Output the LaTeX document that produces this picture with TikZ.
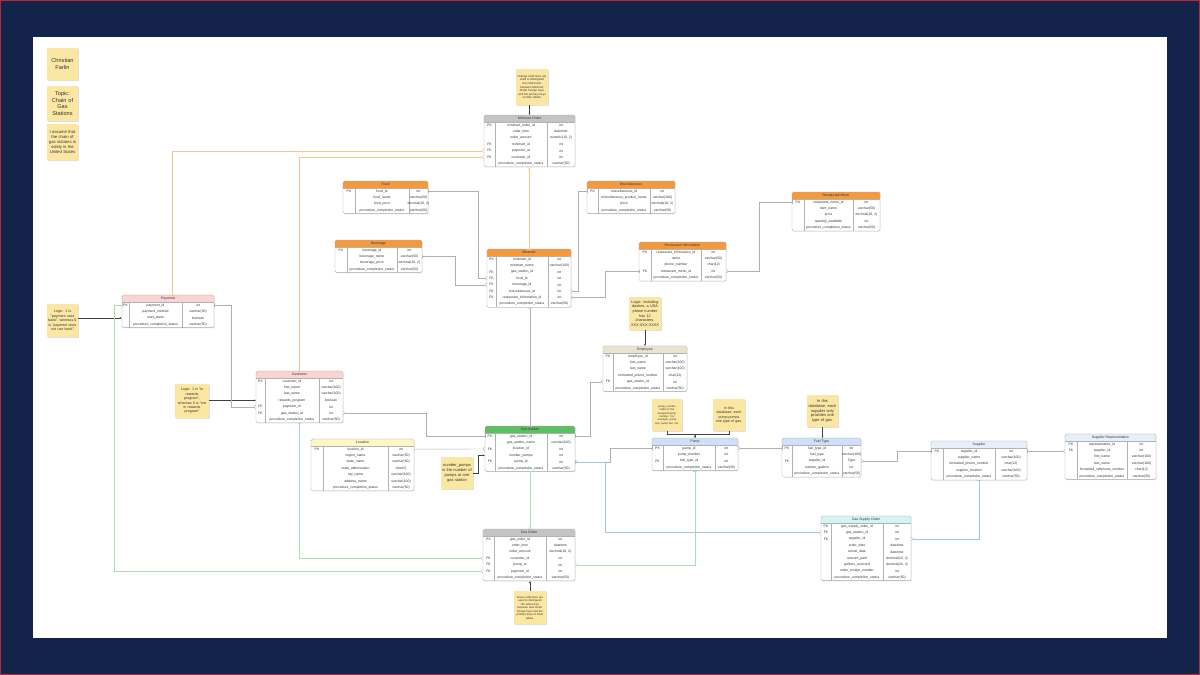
\documentclass[tikz,border=0pt]{standalone}
\usepackage{fontspec}
\setmainfont{Liberation Sans}
\usepackage{xcolor}
\usepackage{tikz}
\usetikzlibrary{positioning, calc, arrows.meta, shadows}

\definecolor{framenavy}{HTML}{13244A}
\definecolor{framered}{HTML}{B22A3A}
\definecolor{notefill}{HTML}{FBE7A2}
\definecolor{hdorange}{HTML}{F59A3C}
\definecolor{hdpink}{HTML}{F8D4D4}
\definecolor{hdgreen}{HTML}{5CC061}
\definecolor{hdgray}{HTML}{C4C4C4}
\definecolor{hdblue}{HTML}{CFE1F7}
\definecolor{hdpale}{HTML}{E6EFFA}
\definecolor{hdyellow}{HTML}{FCF7C3}
\definecolor{hdbeige}{HTML}{E9E3D0}
\definecolor{hdcyan}{HTML}{D4F4F1}
\definecolor{ergray}{HTML}{B0B0B0}
\definecolor{erorange}{HTML}{F5C593}
\definecolor{ergreen}{HTML}{A8DEB2}
\definecolor{erblue}{HTML}{A6C5DD}
\definecolor{inktext}{HTML}{333333}

\tikzset{
  tablebox/.style={rectangle, fill=white, inner sep=0pt, outer sep=0pt, rounded corners=1.5pt, drop shadow={opacity=0.15, shadow xshift=0.6pt, shadow yshift=-0.8pt}},
  tablegrid/.style={draw=black!30, line width=0.35pt},
  tabletitle/.style={font=\fontsize{3.5}{4}\selectfont, text=inktext, inner sep=0pt},
  cell/.style={font=\fontsize{3.4}{4}\selectfont, text=inktext, inner sep=0pt},
  sticky/.style={fill=notefill, minimum width=31, minimum height=33, text width=29, align=center, inner sep=1pt, text=inktext, drop shadow={opacity=0.25, shadow xshift=0.6pt, shadow yshift=-0.9pt}},
  erline/.style={draw=ergray, line width=0.4pt, arrows={Bar[width=3.5pt]-Straight Barb[reversed, length=2pt, width=3.5pt]}},
  orangeline/.style={erline, draw=erorange},
  greenline/.style={erline, draw=ergreen},
  blueline/.style={erline, draw=erblue},
  notearrow/.style={draw=black!75, line width=0.4pt, -{Latex[length=2.2pt, width=2pt]}}
}

\newcommand{\rowh}{6.4}
\newcommand{\headh}{7}
% name, left, top, width, key col, type col, header colour, title, rows
\newcommand{\erdtable}[9]{%
  \foreach [count=\i] \colx in {#9} {\xdef\nrows{\i}}
  \pgfmathsetmacro{\tabh}{\headh+\nrows*\rowh}
  \node[tablebox, minimum width=#4, minimum height=\tabh, anchor=north west] (#1) at (#2,#3) {};
  \fill[#7, rounded corners=1.5pt] (#2,#3) rectangle ({#2+#4},{#3+\headh});
  \fill[#7] (#2,{#3+\headh/2}) rectangle ({#2+#4},{#3+\headh});
  \draw[tablegrid] (#2,{#3+\headh}) -- ({#2+#4},{#3+\headh});
  \draw[tablegrid] ({#2+#5},{#3+\headh}) -- ({#2+#5},{#3+\tabh});
  \draw[tablegrid] ({#2+#6},{#3+\headh}) -- ({#2+#6},{#3+\tabh});
  \draw[tablegrid, draw=black!35, rounded corners=1.5pt] (#1.north west) rectangle (#1.south east);
  \node[tabletitle] (#1-title) at ({#2+#4/2},{#3+\headh/2}) {#8};
  \foreach [count=\i] \colk/\coln/\colt in {#9} {
    \pgfmathsetmacro{\ry}{#3+\headh+(\i-0.5)*\rowh}
    \node[cell] (#1-k\i) at ({#2+#5/2},\ry) {\colk};
    \node[cell] (#1-n\i) at ({#2+(#5+#6)/2},\ry) {\coln};
    \node[cell] (#1-t\i) at ({#2+(#6+#4)/2},\ry) {\colt};
    \coordinate (#1-\i-w) at (#2,\ry);
    \coordinate (#1-\i-e) at ({#2+#4},\ry);
  }
}

\begin{document}
\begin{tikzpicture}[x=1pt, y=-1pt]
  \useasboundingbox (0,0) rectangle (1200,675);
  \fill[framenavy] (0,0) rectangle (1200,675);
  \draw[framered, line width=1.2pt] (0.6,0.6) rectangle (1199.4,674.4);
  \fill[white] (33,37) rectangle (1167,638);

  % tables
  \erdtable{mo}{484}{115}{91}{11}{63}{hdgray}{Minimart Order}{PK/minimart\_order\_id/int, /order\_time/datetime, /order\_amount/{numeric(10, 2)}, FK/minimart\_id/int, FK/payment\_id/int, FK/customer\_id/int, /procedure\_completion\_status/varchar(50)}
  \erdtable{food}{343}{181}{85}{12}{66}{hdorange}{Food}{PK/food\_id/int, /food\_name/varchar(50), /food\_price/{decimal(10, 2)}, /procedure\_completion\_status/varchar(50)}
  \erdtable{beverage}{335}{240}{87}{12}{62}{hdorange}{Beverage}{PK/beverage\_id/int, /beverage\_name/varchar(50), /beverage\_price/{decimal(10, 2)}, /procedure\_completion\_status/varchar(50)}
  \erdtable{misc}{587}{181}{88}{11}{63}{hdorange}{Miscellaneous}{PK/miscellaneous\_id/int, /miscellaneous\_product\_name/varchar(100), /price/{decimal(10, 2)}, /procedure\_completion\_status/varchar(50)}
  \erdtable{minimart}{487}{249}{84}{9}{61}{hdorange}{Minimart}{PK/minimart\_id/int, /minimart\_name/varchar(100), FK/gas\_station\_id/int, FK/food\_id/int, FK/beverage\_id/int, FK/miscellaneous\_id/int, FK/restaurant\_information\_id/int, /procedure\_completion\_status/varchar(50)}
  \erdtable{resinfo}{639}{242}{87}{12}{62}{hdorange}{Restaurant Information}{PK/restaurant\_information\_id/int, /name/varchar(50), /phone\_number/char(12), FK/restaurant\_menu\_id/int, /procedure\_completion\_status/varchar(50)}
  \erdtable{resmenu}{792}{192}{88}{12}{61}{hdorange}{Restaurant Menu}{PK/restaurant\_menu\_id/int, /item\_name/varchar(50), /price/{decimal(10, 2)}, /quantity\_available/int, /procedure\_completion\_status/varchar(50)}
  \erdtable{payment}{122}{295}{92}{7}{60}{hdpink}{Payment}{PK/payment\_id/int, /payment\_method/varchar(50), /uses\_bank/boolean, /procedure\_completion\_status/varchar(50)}
  \erdtable{customer}{256}{371}{87}{9}{63}{hdpink}{Customer}{PK/customer\_id/int, /first\_name/varchar(100), /last\_name/varchar(100), /rewards\_program/boolean, FK/payment\_id/int, FK/gas\_station\_id/int, /procedure\_completion\_status/varchar(50)}
  \erdtable{employee}{603}{346}{84}{10}{60}{hdbeige}{Employee}{PK/employee\_id/int, /first\_name/varchar(100), /last\_name/varchar(100), /formatted\_phone\_number/char(12), FK/gas\_station\_id/int, /procedure\_completion\_status/varchar(50)}
  \erdtable{location}{311}{439}{103}{12}{77}{hdyellow}{Location}{PK/location\_id/int, /region\_name/varchar(50), /state\_name/varchar(50), /state\_abbreviation/char(2), /city\_name/varchar(100), /address\_name/varchar(100), /procedure\_completion\_status/varchar(50)}
  \erdtable{gasstation}{485}{426}{90}{10}{62}{hdgreen}{Gas Station}{PK/gas\_station\_id/int, /gas\_station\_name/varchar(100), FK/location\_id/int, /number\_pumps/int, FK/pump\_id/int, /procedure\_completion\_status/varchar(50)}
  \erdtable{pump}{652}{438}{86}{11}{63}{hdblue}{Pump}{PK/pump\_id/int, /pump\_number/int, FK/fuel\_type\_id/int, /procedure\_completion\_status/varchar(50)}
  \erdtable{fueltype}{782}{438}{79}{10}{60}{hdblue}{Fuel Type}{PK/fuel\_type\_id/int, /fuel\_type/varchar(100), FK/supplier\_id/Type, /number\_gallons/int, /procedure\_completion\_status/varchar(50)}
  \erdtable{supplier}{931}{441}{96}{12}{64}{hdpale}{Supplier}{PK/supplier\_id/int, /supplier\_name/varchar(100), /formatted\_phone\_number/char(12), /supplier\_location/varchar(100), /procedure\_completion\_status/varchar(50)}
  \erdtable{suprep}{1065}{434}{91}{12}{62}{hdpale}{Supplier Representative}{PK/representative\_id/int, FK/supplier\_id/int, /first\_name/varchar(100), /last\_name/varchar(100), /formatted\_cellphone\_number/char(12), /procedure\_completion\_status/varchar(50)}
  \erdtable{gasorder}{483}{529}{92}{11}{63}{hdgray}{Gas Order}{PK/gas\_order\_id/int, /order\_time/datetime, /order\_amount/{decimal(10, 2)}, FK/customer\_id/int, FK/pump\_id/int, FK/payment\_id/int, /procedure\_completion\_status/varchar(50)}
  \erdtable{gso}{821}{516}{90}{10}{62}{hdcyan}{Gas Supply Order}{PK/gas\_supply\_order\_id/int, FK/gas\_station\_id/int, FK/supplier\_id/int, /order\_date/datetime, /arrival\_date/datetime, /amount\_paid/{decimal(10, 2)}, /gallons\_received/{decimal(10, 2)}, /order\_receipt\_number/int, /procedure\_completion\_status/varchar(50)}

  % sticky notes
  \node[sticky, minimum height=32, font=\fontsize{5.6}{6.6}\selectfont] (authornote) at (62.5,64) {Christian\\Farlin};
  \node[sticky, minimum height=35, font=\fontsize{5.6}{6.6}\selectfont] (topicnote) at (62.5,103.5) {Topic:\\Chain of\\Gas\\Stations};
  \node[sticky, minimum height=36, font=\fontsize{4.2}{5}\selectfont] (assumenote) at (62.5,142) {I assume that\\the chain of\\gas stations is\\solely in the\\United States};
  \node[sticky, minimum width=32, text width=30, minimum height=36, font=\fontsize{2.9}{3.6}\selectfont] (monote) at (532,87) {Orange solid lines are\\used to distinguish\\the references\\between Minimart\\Order foreign keys\\and the primary keys\\of other tables.};
  \node[sticky, minimum width=32, text width=30, font=\fontsize{3.8}{4.6}\selectfont] (empnote) at (645,313.5) {Logic: including\\dashes, a USA\\phone number\\has 12\\characters.\\XXX-XXX-XXXX};
  \node[sticky, font=\fontsize{3.6}{4.4}\selectfont] (paynote) at (62.5,320.5) {Logic: 1 is\\"payment uses\\bank", whereas 0\\is "payment does\\not use bank"};
  \node[sticky, minimum width=34, text width=32, minimum height=34, font=\fontsize{3.6}{4.4}\selectfont] (custnote) at (192,401) {Logic: 1 is "in\\rewards\\program",\\whereas 0 is "not\\in rewards\\program"};
  \node[sticky, minimum width=32, text width=30, minimum height=32, font=\fontsize{4}{4.8}\selectfont] (gsnote) at (457,473) {number\_pumps\\is the number of\\pumps at one\\gas station};
  \node[sticky, minimum width=30, text width=28, minimum height=32, font=\fontsize{2.7}{3.4}\selectfont] (pumpnote) at (667,415) {pump\_number\\refers to the\\assigned pump\\number. For\\example, pump\\one, pump two, etc.};
  \node[sticky, minimum width=32, text width=30, minimum height=32, font=\fontsize{3.6}{4.4}\selectfont] (gastypenote) at (729,415) {In this\\database, each\\pump pumps\\one type of gas.};
  \node[sticky, minimum width=31, text width=29, minimum height=32, font=\fontsize{4}{4.8}\selectfont] (suppliernote) at (822.5,411) {In this\\database, each\\supplier only\\provides one\\type of gas.};
  \node[sticky, minimum width=32, text width=30, minimum height=33, font=\fontsize{2.8}{3.5}\selectfont] (gonote) at (530,607.5) {Green solid lines are\\used to distinguish\\the references\\between Gas Order\\foreign keys and the\\primary keys of other\\tables.};

  % note arrows
  \draw[notearrow] (mo.north |- monote.south) -- (mo.north);
  \draw[notearrow] (empnote.south) -- (empnote.south |- employee.north);
  \draw[notearrow] (paynote.east |- payment-3-w) -- (payment-3-w);
  \draw[notearrow] (custnote.east |- customer-4-w) -- (customer-4-w);
  \draw[notearrow] (gsnote.east) -- ++(5,0) |- (gasstation-4-w);
  \draw[notearrow] (pumpnote.south) -- ++(0,3) -| (pump.north);
  \draw[notearrow] (gastypenote.south) -- ++(0,3) -| (pump.north);
  \draw[notearrow] (suppliernote.south) -- (suppliernote.south |- fueltype.north);
  \draw[notearrow] (gonote.north) -- (gonote.north |- gasorder.south);

  % relations
  \draw[erline] (food-1-e) -| ($(minimart-4-w)+(-9,0)$) -- (minimart-4-w);
  \draw[erline] (beverage.east) -| ($(minimart-5-w)+(-32,0)$) -- (minimart-5-w);
  \draw[erline] (misc-1-w) -- ++(-9,0) |- (minimart-6-e);
  \draw[erline] (resinfo-4-w) -- ++(-34,0) |- (minimart-7-e);
  \draw[erline] (resmenu-1-w) -- ++(-33,0) |- (resinfo-4-e);
  \draw[erline] (gasstation.north) -- (gasstation.north |- minimart.south);
  \draw[erline] (payment-1-e) -- ++(17,0) |- (customer-5-w);
  \draw[erline] (gasstation-1-w) -- ++(-59,0) |- (customer-6-e);
  \draw[erline] (location-1-e) -- (gasstation-3-w);
  \draw[erline] (gasstation-1-e) -- ++(15,0) |- (employee-5-w);
  \draw[erline] (pump-1-w) -- ++(-42,0) |- (gasstation-5-e);
  \draw[blueline] (gasstation-5-e) -- ++(30,0) |- (gso-2-w);
  \draw[erline] (fueltype-1-w) -- (pump-1-e);
  \draw[erline] (supplier-1-w) -- ++(-34,0) |- (fueltype-3-e);
  \draw[erline] (supplier-1-e) -- (supplier-1-e -| suprep.west);
  \draw[blueline] (supplier.south) |- (gso-3-e);
  \draw[orangeline] ([xshift=50pt]payment.north west) |- (mo-5-w);
  \draw[orangeline] (customer.north) |- (mo-6-w);
  \draw[orangeline] (minimart.north) -- (minimart.north |- mo.south);
  \draw[greenline] (gasstation.south) -- (gasstation.south |- gasorder.north);
  \draw[greenline] (customer.south) |- (gasorder-4-w);
  \draw[greenline] (payment-1-w) -- ++(-8,0) |- (gasorder-6-w);
  \draw[greenline] (pump.south) |- (gasorder-5-e);
\end{tikzpicture}
\end{document}
